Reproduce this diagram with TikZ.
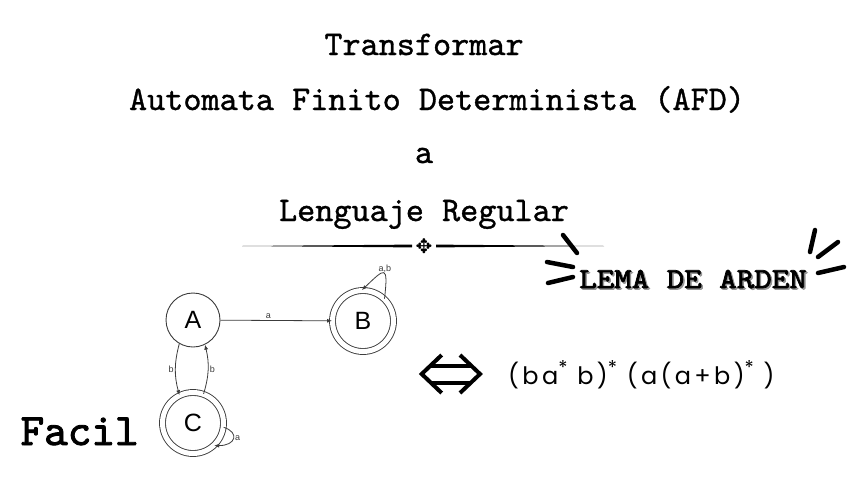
\documentclass[tikz,border=0pt]{standalone}
\usepackage{fontspec}
\usetikzlibrary{arrows.meta}
\newfontfamily\titlefont{lmmono10-regular.otf}[FakeBold=1]
\newfontfamily\lemafont{lmmono10-regular.otf}[FakeStretch=1.15, FakeBold=2.5]
\newfontfamily\facilfont{lmmono10-regular.otf}[FakeBold=2]
\newfontfamily\autfont{Liberation Sans}
\newfontfamily\formfont{Poppins}[LetterSpace=14]
\newfontfamily\symfont{DejaVu Sans}
\definecolor{autgray}{RGB}{60,60,60}
\definecolor{shadowgray}{RGB}{150,150,150}
\newcommand{\kstar}{\raisebox{0.38em}{\fontsize{19}{19}\selectfont *}}

\begin{document}
\begin{tikzpicture}[x=1pt, y=1pt,
  title/.style={font=\titlefont\fontsize{34.5}{40}\selectfont, anchor=base},
  state/.style={circle, draw=autgray, line width=0.9pt, minimum size=54pt,
    inner sep=0pt, font=\autfont\fontsize{25}{28}\selectfont},
  final/.style={state, double, double distance=5pt, minimum size=61pt},
  arrow/.style={-{Latex[length=5pt, width=4pt]}, autgray, line width=0.8pt},
  edgelabel/.style={font=\autfont\fontsize{9}{10}\selectfont, inner sep=1.5pt},
  lema/.style={font=\lemafont\fontsize{29}{30}\selectfont, anchor=base},
  burst/.style={line width=4.5pt, line cap=round}
]
  \fill[white] (0,0) rectangle (848,-477);
  \useasboundingbox (0,0) rectangle (848,-477);

  % title
  \node[title] (t1) at (424,-55) {Transformar};
  \node[title] (t2) at (437,-110) {Automata Finito Determinista (AFD)};
  \node[title] (t3) at (424,-163) {a};
  \node[title] (t4) at (424,-221) {Lenguaje Regular};

  % ornament under the title
  \fill (242,-246) -- (412,-244.6) -- (412,-247.4) -- cycle;
  \fill (436,-244.6) -- (604,-246) -- (436,-247.4) -- cycle;
  \node[font=\symfont\fontsize{20}{20}\selectfont, inner sep=0pt] (orn) at (424,-246) {✥};

  % lema de arden
  \node[lema, text=shadowgray] (lemashadow) at (694.5,-289.5) {LEMA DE ARDEN};
  \node[lema] (lema) at (693,-288) {LEMA DE ARDEN};
  \draw[burst] (563,-235) -- (577,-253);
  \draw[burst] (547,-262) -- (573,-267);
  \draw[burst] (548,-283) -- (573,-277);
  \draw[burst] (815,-230) -- (810,-252);
  \draw[burst] (838,-242) -- (818,-257);
  \draw[burst] (844,-267) -- (818,-273);

  % automaton
  \node[state] (A) at (193,-320) {A};
  \node[final] (B) at (363,-321) {B};
  \node[final] (C) at (193,-423) {C};

  \draw[arrow] (A) -- node[edgelabel, above, pos=0.43] {a} (B);
  \draw[arrow] (A.240) to[bend right=15] node[edgelabel, left] {b} (C.116);
  \draw[arrow] (C.70) to[bend right=15] node[edgelabel, right] {b} (A.296);
  \draw[arrow] (B.46) .. controls +(4,35) and +(23,22) .. node[edgelabel, pos=0.4, above] {a,b} (B.92);
  \draw[arrow] (C.-8) .. controls +(16,-5) and +(22,0) .. node[edgelabel, right] {a} (C.-47);

  \node[anchor=base west, font=\facilfont\fontsize{45}{48}\selectfont] (facil) at (17,-445) {Facil};

  % equivalence and regular expression
  \draw[line width=4pt] (441.7,-355) -- (421.7,-374) -- (441.7,-393);
  \draw[line width=4pt] (460,-355) -- (480,-374) -- (460,-393);
  \draw[line width=4pt] (430.6,-365.5) -- (471.1,-365.5);
  \draw[line width=4pt] (430.6,-382.5) -- (471.1,-382.5);

  \node[anchor=base west, inner sep=0pt, font=\formfont\fontsize{24}{26}\selectfont] (regex) at (508,-384)
    {(ba\kstar{} b)\kstar{} (a(a+b)\kstar{} )};
\end{tikzpicture}
\end{document}
